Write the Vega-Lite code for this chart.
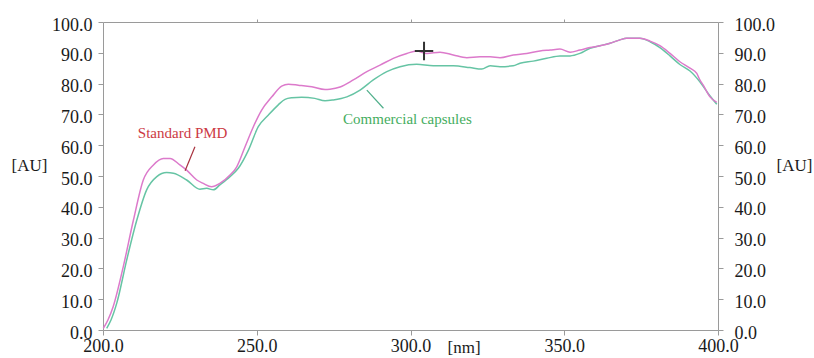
{
  "$schema": "https://vega.github.io/schema/vega-lite/v6.json",
  "width": 615,
  "height": 308,
  "autosize": "none",
  "padding": {"left": 103, "top": 22, "right": 96, "bottom": 28},
  "background": "white",
  "config": {
    "view": {"stroke": null},
    "font": "Liberation Serif",
    "axis": {
      "grid": false,
      "domainColor": "#9a9a9a",
      "tickColor": "#9a9a9a",
      "labelColor": "#1a1a1a",
      "labelFont": "Liberation Serif",
      "labelFontSize": 18,
      "titleFont": "Liberation Serif",
      "titleFontSize": 17,
      "titleFontWeight": "normal",
      "titleColor": "#1a1a1a",
      "labelFlush": false,
      "labelOverlap": false
    }
  },
  "datasets": {
    "spectra": [
      {"s": "Commercial capsules", "x": 201.2, "y": 0.55},
      {"s": "Commercial capsules", "x": 202.6, "y": 3.25},
      {"s": "Commercial capsules", "x": 204.5, "y": 8.8},
      {"s": "Commercial capsules", "x": 207.7, "y": 22.7},
      {"s": "Commercial capsules", "x": 211.0, "y": 35.7},
      {"s": "Commercial capsules", "x": 214.2, "y": 45.5},
      {"s": "Commercial capsules", "x": 217.5, "y": 49.8},
      {"s": "Commercial capsules", "x": 220.7, "y": 51.1},
      {"s": "Commercial capsules", "x": 222.9, "y": 50.9},
      {"s": "Commercial capsules", "x": 227.2, "y": 48.7},
      {"s": "Commercial capsules", "x": 231.5, "y": 45.7},
      {"s": "Commercial capsules", "x": 233.7, "y": 46.0},
      {"s": "Commercial capsules", "x": 235.9, "y": 45.5},
      {"s": "Commercial capsules", "x": 238.0, "y": 47.1},
      {"s": "Commercial capsules", "x": 241.3, "y": 49.8},
      {"s": "Commercial capsules", "x": 244.0, "y": 52.5},
      {"s": "Commercial capsules", "x": 247.3, "y": 58.4},
      {"s": "Commercial capsules", "x": 250.5, "y": 66.0},
      {"s": "Commercial capsules", "x": 253.8, "y": 69.8},
      {"s": "Commercial capsules", "x": 257.0, "y": 73.1},
      {"s": "Commercial capsules", "x": 259.2, "y": 74.9},
      {"s": "Commercial capsules", "x": 261.4, "y": 75.4},
      {"s": "Commercial capsules", "x": 264.6, "y": 75.6},
      {"s": "Commercial capsules", "x": 268.9, "y": 75.2},
      {"s": "Commercial capsules", "x": 272.2, "y": 74.4},
      {"s": "Commercial capsules", "x": 274.9, "y": 74.7},
      {"s": "Commercial capsules", "x": 279.3, "y": 75.7},
      {"s": "Commercial capsules", "x": 283.6, "y": 77.9},
      {"s": "Commercial capsules", "x": 287.9, "y": 81.2},
      {"s": "Commercial capsules", "x": 292.3, "y": 83.9},
      {"s": "Commercial capsules", "x": 296.6, "y": 85.5},
      {"s": "Commercial capsules", "x": 302.0, "y": 86.3},
      {"s": "Commercial capsules", "x": 307.4, "y": 85.8},
      {"s": "Commercial capsules", "x": 313.9, "y": 85.8},
      {"s": "Commercial capsules", "x": 319.3, "y": 85.2},
      {"s": "Commercial capsules", "x": 323.2, "y": 84.7},
      {"s": "Commercial capsules", "x": 325.9, "y": 85.8},
      {"s": "Commercial capsules", "x": 329.1, "y": 85.5},
      {"s": "Commercial capsules", "x": 333.4, "y": 85.8},
      {"s": "Commercial capsules", "x": 335.6, "y": 86.6},
      {"s": "Commercial capsules", "x": 339.9, "y": 87.3},
      {"s": "Commercial capsules", "x": 344.3, "y": 88.2},
      {"s": "Commercial capsules", "x": 348.6, "y": 89.0},
      {"s": "Commercial capsules", "x": 351.9, "y": 89.0},
      {"s": "Commercial capsules", "x": 355.1, "y": 89.8},
      {"s": "Commercial capsules", "x": 358.4, "y": 91.5},
      {"s": "Commercial capsules", "x": 361.6, "y": 92.3},
      {"s": "Commercial capsules", "x": 364.9, "y": 93.1},
      {"s": "Commercial capsules", "x": 368.1, "y": 94.2},
      {"s": "Commercial capsules", "x": 370.3, "y": 94.7},
      {"s": "Commercial capsules", "x": 374.6, "y": 94.7},
      {"s": "Commercial capsules", "x": 377.9, "y": 93.6},
      {"s": "Commercial capsules", "x": 381.1, "y": 91.7},
      {"s": "Commercial capsules", "x": 384.4, "y": 89.0},
      {"s": "Commercial capsules", "x": 387.6, "y": 86.2},
      {"s": "Commercial capsules", "x": 390.9, "y": 84.1},
      {"s": "Commercial capsules", "x": 394.1, "y": 80.6},
      {"s": "Commercial capsules", "x": 396.8, "y": 76.8},
      {"s": "Commercial capsules", "x": 399.6, "y": 73.3},
      {"s": "Standard PMD", "x": 200.1, "y": 0.55},
      {"s": "Standard PMD", "x": 201.6, "y": 3.25},
      {"s": "Standard PMD", "x": 203.3, "y": 7.57},
      {"s": "Standard PMD", "x": 206.6, "y": 20.6},
      {"s": "Standard PMD", "x": 209.9, "y": 35.7},
      {"s": "Standard PMD", "x": 213.1, "y": 48.7},
      {"s": "Standard PMD", "x": 216.4, "y": 53.6},
      {"s": "Standard PMD", "x": 219.6, "y": 55.7},
      {"s": "Standard PMD", "x": 221.8, "y": 55.7},
      {"s": "Standard PMD", "x": 225.0, "y": 53.6},
      {"s": "Standard PMD", "x": 227.2, "y": 51.9},
      {"s": "Standard PMD", "x": 230.5, "y": 48.7},
      {"s": "Standard PMD", "x": 232.6, "y": 47.6},
      {"s": "Standard PMD", "x": 235.3, "y": 46.5},
      {"s": "Standard PMD", "x": 238.0, "y": 47.6},
      {"s": "Standard PMD", "x": 241.3, "y": 50.3},
      {"s": "Standard PMD", "x": 243.5, "y": 53.0},
      {"s": "Standard PMD", "x": 246.2, "y": 59.5},
      {"s": "Standard PMD", "x": 248.9, "y": 66.0},
      {"s": "Standard PMD", "x": 251.6, "y": 71.4},
      {"s": "Standard PMD", "x": 254.9, "y": 75.7},
      {"s": "Standard PMD", "x": 258.1, "y": 79.2},
      {"s": "Standard PMD", "x": 260.3, "y": 79.8},
      {"s": "Standard PMD", "x": 263.5, "y": 79.5},
      {"s": "Standard PMD", "x": 267.9, "y": 79.0},
      {"s": "Standard PMD", "x": 272.2, "y": 78.1},
      {"s": "Standard PMD", "x": 273.8, "y": 78.2},
      {"s": "Standard PMD", "x": 277.1, "y": 78.9},
      {"s": "Standard PMD", "x": 281.4, "y": 81.2},
      {"s": "Standard PMD", "x": 285.8, "y": 83.9},
      {"s": "Standard PMD", "x": 290.1, "y": 86.0},
      {"s": "Standard PMD", "x": 294.4, "y": 88.2},
      {"s": "Standard PMD", "x": 298.8, "y": 89.8},
      {"s": "Standard PMD", "x": 302.0, "y": 90.6},
      {"s": "Standard PMD", "x": 305.3, "y": 89.8},
      {"s": "Standard PMD", "x": 309.6, "y": 90.2},
      {"s": "Standard PMD", "x": 313.9, "y": 89.3},
      {"s": "Standard PMD", "x": 318.3, "y": 88.4},
      {"s": "Standard PMD", "x": 322.6, "y": 88.7},
      {"s": "Standard PMD", "x": 325.9, "y": 88.7},
      {"s": "Standard PMD", "x": 329.1, "y": 88.4},
      {"s": "Standard PMD", "x": 333.4, "y": 89.3},
      {"s": "Standard PMD", "x": 337.8, "y": 89.8},
      {"s": "Standard PMD", "x": 342.1, "y": 90.6},
      {"s": "Standard PMD", "x": 345.4, "y": 90.9},
      {"s": "Standard PMD", "x": 348.6, "y": 91.2},
      {"s": "Standard PMD", "x": 351.9, "y": 90.2},
      {"s": "Standard PMD", "x": 355.1, "y": 90.9},
      {"s": "Standard PMD", "x": 358.4, "y": 91.7},
      {"s": "Standard PMD", "x": 361.6, "y": 92.3},
      {"s": "Standard PMD", "x": 364.9, "y": 93.1},
      {"s": "Standard PMD", "x": 368.1, "y": 94.2},
      {"s": "Standard PMD", "x": 370.3, "y": 94.7},
      {"s": "Standard PMD", "x": 374.6, "y": 94.7},
      {"s": "Standard PMD", "x": 377.9, "y": 93.8},
      {"s": "Standard PMD", "x": 381.1, "y": 92.3},
      {"s": "Standard PMD", "x": 384.4, "y": 89.8},
      {"s": "Standard PMD", "x": 387.6, "y": 87.1},
      {"s": "Standard PMD", "x": 390.9, "y": 85.0},
      {"s": "Standard PMD", "x": 393.1, "y": 83.3},
      {"s": "Standard PMD", "x": 394.1, "y": 81.2},
      {"s": "Standard PMD", "x": 395.2, "y": 79.5},
      {"s": "Standard PMD", "x": 397.4, "y": 75.7},
      {"s": "Standard PMD", "x": 399.6, "y": 73.9}
    ],
    "notes": [
      {"series": "Standard PMD", "tx": 225.9, "ty": 64.0, "x1": 229.9, "y1": 59.5, "x2": 226.7, "y2": 51.7},
      {"series": "Commercial capsules", "tx": 299.0, "ty": 68.4, "x1": 285.8, "y1": 77.9, "x2": 291.2, "y2": 72.0}
    ],
    "cursor": [
      {"x": 304.4, "y": 90.6}
    ]
  },
  "layer": [
    {
      "data": {"name": "spectra"},
      "mark": {"type": "line", "strokeWidth": 1.5, "interpolate": "monotone"},
      "encoding": {
        "x": {
          "field": "x", "type": "quantitative",
          "scale": {"domain": [200, 400], "nice": false, "zero": false},
          "axis": {
            "orient": "bottom", "values": [200, 250, 300, 350, 400], "format": ".1f",
            "tickSize": 5, "labelPadding": 2,
            "title": "[nm]", "titleAngle": 0, "titleAlign": "left", "titleBaseline": "middle",
            "titleX": 344, "titleY": 17
          }
        },
        "y": {
          "field": "y", "type": "quantitative",
          "scale": {"domain": [0, 100], "nice": false},
          "axis": {
            "orient": "left", "values": [0, 10, 20, 30, 40, 50, 60, 70, 80, 90, 100], "format": ".1f",
            "tickSize": 5, "labelPadding": 6, "labelOffset": 3,
            "title": "[AU]", "titleAngle": 0, "titleAlign": "left", "titleBaseline": "middle",
            "titleX": -92, "titleY": 143
          }
        },
        "color": {
          "field": "s", "type": "nominal",
          "scale": {"domain": ["Commercial capsules", "Standard PMD"], "range": ["#66c4a4", "#dc7acb"]},
          "legend": null
        }
      }
    },
    {
      "encoding": {
        "x": {
          "type": "quantitative",
          "scale": {"domain": [200, 400], "nice": false, "zero": false},
          "axis": {"orient": "top", "values": [250, 300, 350], "labels": false, "tickSize": 3, "title": null}
        },
        "y": {
          "type": "quantitative",
          "scale": {"domain": [0, 100], "nice": false},
          "axis": {
            "orient": "right", "values": [0, 10, 20, 30, 40, 50, 60, 70, 80, 90, 100], "format": ".1f",
            "tickSize": 5, "labelPadding": 11, "labelOffset": 3,
            "title": "[AU]", "titleAngle": 0, "titleAlign": "left", "titleBaseline": "middle",
            "titleX": 58, "titleY": 143
          }
        }
      },
      "layer": [
        {
          "data": {"name": "notes"},
          "mark": {"type": "rule", "strokeWidth": 1.2},
          "encoding": {
            "x": {"field": "x1"},
            "y": {"field": "y1"},
            "x2": {"field": "x2"},
            "y2": {"field": "y2"},
            "color": {
              "field": "series", "type": "nominal",
              "scale": {"domain": ["Standard PMD", "Commercial capsules"], "range": ["#a8323f", "#4fae8a"]},
              "legend": null
            }
          }
        },
        {
          "data": {"name": "notes"},
          "mark": {"type": "text", "font": "Liberation Serif", "fontSize": 15, "align": "center", "baseline": "middle"},
          "encoding": {
            "x": {"field": "tx"},
            "y": {"field": "ty"},
            "text": {"field": "series"},
            "color": {
              "field": "series", "type": "nominal",
              "scale": {"domain": ["Standard PMD", "Commercial capsules"], "range": ["#cc3a44", "#45ad5e"]},
              "legend": null
            }
          }
        },
        {
          "data": {"name": "cursor"},
          "mark": {"type": "point", "shape": "M-1,0H1M0,-1V1", "size": 340, "stroke": "#333333", "strokeWidth": 2, "filled": false, "opacity": 1},
          "encoding": {
            "x": {"field": "x"},
            "y": {"field": "y"}
          }
        }
      ],
      "resolve": {"scale": {"color": "independent"}}
    }
  ],
  "resolve": {"scale": {"x": "independent", "y": "independent"}}
}
